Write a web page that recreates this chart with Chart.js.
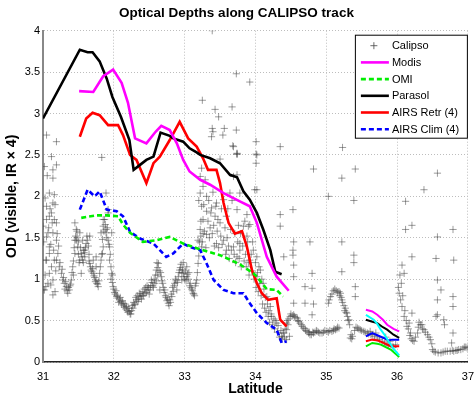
<!DOCTYPE html>
<html>
<head>
<meta charset="utf-8">
<script src="https://cdn.jsdelivr.net/npm/chart.js@4.4.1/dist/chart.umd.min.js"></script>
<style>
html,body{margin:0;padding:0;background:#fff;}
#wrap{width:474px;height:397px;position:relative;}
</style>
</head>
<body>
<div id="wrap"><canvas id="c" width="474" height="397"></canvas></div>
<script>
// ---------- data ----------
const xTicks = [31, 32, 33, 34, 35, 36, 37];
const yTicks = [0, 0.5, 1, 1.5, 2, 2.5, 3, 3.5, 4];

const calipsoLat = [
31.02,31.05,31.19,31.12,31.02,31.14,31.14,31.19,31.09,31.16,31.05,31.12,31.16,31.05,31.14,31.05,31.19,31.09,31.05,31.09,31.14,31.00,31.14,31.19,31.04,31.09,31.16,31.21,31.23,31.14,31.09,31.07,31.19,31.12,31.04,31.00,31.24,
31.01,31.03,31.06,31.08,31.10,31.11,31.13,31.15,31.17,31.18,31.20,31.22,31.03,31.07,31.11,31.17,
31.26,31.28,31.33,31.35,31.37,31.40,31.42,31.45,31.45,31.47,31.49,31.52,31.54,31.56,31.59,31.61,31.63,31.66,31.68,31.71,31.75,31.78,31.80,31.82,31.85,31.85,31.87,31.89,31.92,31.94,31.94,31.97,31.99,32.04,32.08,32.13,32.18,32.22,32.27,32.32,32.37,32.44,32.48,
31.56,31.52,31.71,31.75,31.82,31.89,31.97,31.92,31.54,31.30,31.38,31.43,31.50,31.57,31.65,31.73,31.76,31.84,31.96,32.01,32.06,32.10,32.15,32.20,32.24,32.29,32.34,32.40,31.83,31.98,31.48,31.45,31.47,31.59,31.66,31.75,31.85,31.89,31.92,
31.27,31.29,31.31,31.32,31.34,31.36,31.39,31.41,31.43,31.44,31.46,31.48,31.50,31.51,31.53,31.55,31.57,31.58,31.60,31.62,31.64,31.65,31.67,31.69,31.70,31.72,31.74,31.77,31.79,31.81,31.83,31.84,31.86,31.88,31.90,31.91,31.93,31.95,31.96,31.98,32.00,32.02,32.03,32.05,32.07,32.09,32.11,32.12,32.14,32.16,32.17,32.19,32.21,32.23,32.25,32.26,32.28,32.30,32.31,32.33,32.35,32.36,32.38,32.39,32.41,32.42,32.43,32.46,32.47,32.49,32.50,
32.51,32.58,32.60,32.63,32.67,32.72,32.77,32.82,32.86,32.91,32.93,32.98,33.03,33.08,33.12,33.17,33.19,33.24,33.26,
33.03,32.96,32.65,32.53,32.89,32.55,32.62,32.69,32.74,32.80,32.84,32.88,32.95,33.00,33.06,33.10,33.14,33.15,32.98,32.61,32.45,
32.52,32.54,32.56,32.57,32.59,32.60,32.62,32.64,32.66,32.68,32.70,32.71,32.73,32.75,32.76,32.78,32.79,32.81,32.83,32.85,32.87,32.90,32.92,32.94,32.96,32.97,32.99,33.01,33.02,33.04,33.05,33.07,33.09,33.11,33.13,33.16,33.18,33.20,33.21,33.23,
33.24,33.22,33.26,33.22,33.31,33.24,33.31,33.38,33.43,33.26,33.22,33.36,33.50,33.59,33.19,33.31,33.45,33.55,33.59,33.69,33.78,33.74,33.78,33.88,33.83,33.74,33.78,33.69,33.74,33.88,33.92,33.64,33.55,33.45,33.97,33.92,34.02,34.07,34.11,34.02,34.16,34.21,34.23,34.30,34.37,34.44,33.99,34.02,33.74,34.35,34.35,34.40,
33.20,33.23,33.25,33.27,33.28,33.29,33.30,33.33,33.34,33.35,33.37,33.39,33.40,33.41,33.42,33.44,33.46,33.47,33.48,33.51,33.52,33.53,33.57,33.58,33.60,33.61,33.62,33.63,33.65,33.66,33.67,33.70,33.71,33.72,33.75,33.76,33.77,33.79,33.80,33.82,33.84,33.85,33.86,33.87,33.89,33.90,33.91,33.94,33.95,33.96,33.98,34.00,34.01,34.03,34.04,34.05,34.06,34.08,34.09,34.10,34.12,34.13,34.14,34.15,34.17,34.18,34.19,34.20,34.22,34.24,34.26,34.27,34.28,34.31,34.32,34.34,34.36,34.38,34.39,34.41,34.42,34.46,
33.39,33.73,33.92,33.25,33.67,33.43,33.48,33.39,33.56,33.73,33.40,33.38,33.54,33.68,33.74,34.01,34.01,34.01,34.35,35.23,33.50,34.82,33.69,33.74,34.02,33.90,
34.40,34.44,34.49,34.54,34.59,34.63,34.68,34.73,34.77,34.82,34.87,34.94,35.01,35.08,35.13,35.18,35.03,35.06,35.18,35.20,35.22,35.27,35.29,35.32,35.34,35.37,35.44,35.48,35.53,35.58,35.65,35.72,35.79,35.86,35.93,35.98,
34.45,34.47,34.50,34.52,34.55,34.57,34.60,34.61,34.65,34.66,34.70,34.71,34.75,34.76,34.79,34.81,34.84,34.86,34.89,34.91,34.96,34.98,35.03,35.05,35.10,35.11,35.15,35.16,
35.04,35.08,35.10,35.12,35.14,35.16,35.19,35.21,35.23,35.25,35.26,35.28,35.30,35.31,35.33,35.35,35.36,
35.40,35.42,35.46,35.50,35.55,35.60,35.63,35.68,35.75,35.82,35.88,35.95,
35.22,35.41,35.03,35.39,34.53,34.54,34.77,35.22,34.53,34.53,34.54,34.54,34.80,35.39,35.39,35.22,34.70,34.80,34.70,34.82,34.80,34.54,35.41,35.41,
36.57,36.38,36.12,36.12,36.21,36.57,36.79,36.21,36.55,36.80,36.07,36.10,36.57,36.62,36.57,36.79,36.79,36.66,36.55,36.79,36.77,36.03,36.05,36.07,36.10,36.14,36.19,36.24,36.29,36.33,36.38,36.43,36.47,36.52,36.62,36.71,36.80,36.90,36.97,36.21,36.17,36.57,36.67,36.85,
36.02,36.04,36.06,36.08,36.11,36.13,36.16,36.18,36.20,36.22,36.26,36.30,36.31,36.35,36.36,36.40,36.45,36.49,36.50,36.54,36.58,36.65,36.68,36.75,36.78,36.83,36.87,36.93,36.95,36.99,
34.44,34.48,35.62,35.70,35.84,35.90
];
const calipsoOD = [
0.87,2.74,2.66,2.48,2.36,2.32,2.22,2.38,2.04,2.02,1.88,1.80,1.72,1.72,1.56,1.51,1.47,1.31,1.23,1.07,0.99,0.87,0.81,1.23,0.91,1.39,1.23,1.31,1.15,1.92,1.76,1.56,1.68,1.15,1.23,1.64,1.20,
1.45,1.98,2.25,1.62,1.85,1.42,1.68,1.35,1.90,1.10,1.55,1.40,1.05,0.95,0.93,0.85,
1.07,0.99,0.91,0.83,0.87,0.99,1.15,1.31,1.47,1.60,1.39,1.23,1.31,1.23,1.27,1.43,1.47,1.19,1.11,1.07,0.99,0.91,1.07,1.23,1.39,1.64,1.72,1.56,1.47,1.39,1.23,1.07,0.91,0.79,0.75,0.71,0.67,0.61,0.65,0.75,0.79,0.83,0.87,
1.47,1.56,1.23,1.15,1.56,2.04,1.56,1.80,1.07,0.95,0.92,1.05,1.45,1.35,1.30,1.02,0.95,1.31,1.15,0.84,0.77,0.73,0.66,0.60,0.58,0.69,0.73,0.80,2.47,1.05,1.50,1.68,1.47,1.35,1.52,1.27,1.72,1.60,1.84,
1.12,1.02,0.88,0.97,0.86,0.90,0.94,1.08,1.22,1.38,1.52,1.58,1.30,1.20,1.38,1.27,1.20,1.32,1.38,1.52,1.40,1.22,1.15,1.09,1.13,1.04,0.97,0.94,0.98,1.15,1.30,1.48,1.58,1.66,1.50,1.62,1.42,1.30,1.00,0.96,0.88,0.82,0.86,0.80,0.72,0.78,0.70,0.74,0.68,0.70,0.64,0.62,0.65,0.58,0.62,0.68,0.72,0.70,0.78,0.80,0.76,0.83,0.82,0.76,0.85,0.80,0.88,0.84,0.92,0.90,0.82,
0.87,0.95,1.11,1.19,1.03,0.87,0.71,0.79,0.95,1.03,1.11,1.07,1.03,0.95,0.83,0.99,1.19,1.39,1.55,
1.15,0.99,0.87,0.99,0.87,0.92,1.05,0.95,0.78,0.72,0.85,0.98,1.18,1.00,1.08,0.88,0.80,0.92,1.20,1.20,0.90,
0.92,0.96,0.90,1.00,1.05,0.98,1.14,1.10,1.08,0.98,0.90,0.84,0.80,0.74,0.76,0.68,0.75,0.82,0.90,0.92,1.00,0.96,1.08,1.14,1.08,1.12,1.03,1.10,0.98,1.06,1.00,0.92,0.90,0.86,0.82,0.95,1.08,1.28,1.45,1.52,
2.34,2.24,2.12,2.04,2.00,1.88,1.82,1.86,1.76,1.72,1.60,1.62,1.68,1.76,1.47,1.54,1.43,1.47,1.35,1.39,1.43,1.27,1.35,1.52,1.64,1.84,2.04,2.24,2.26,1.78,1.66,2.04,1.96,1.92,1.35,1.23,1.27,1.11,0.95,1.03,0.79,0.67,0.55,0.47,0.31,0.39,2.08,2.50,2.51,1.78,1.64,1.27,
1.95,1.70,1.45,1.90,1.58,2.20,1.38,1.70,1.95,1.50,1.80,1.55,2.05,1.65,1.40,1.88,1.58,1.72,1.38,1.52,1.85,1.42,1.62,1.30,1.50,1.85,1.40,1.25,1.60,1.35,1.95,1.30,1.55,1.20,1.45,1.65,1.25,1.55,1.15,1.40,1.22,1.70,1.30,1.15,1.45,1.20,1.05,1.30,1.10,1.45,1.00,1.20,0.90,1.08,0.85,1.15,0.95,0.80,1.00,0.70,0.88,0.65,0.78,0.60,0.70,0.55,0.62,0.48,0.58,0.45,0.52,0.40,0.50,0.36,0.44,0.30,0.38,0.28,0.35,0.30,0.40,0.45,
4.00,3.48,3.38,3.16,3.08,3.05,2.96,2.82,2.82,2.80,2.78,2.72,2.74,2.61,2.51,2.66,2.51,2.40,2.60,2.59,2.45,2.33,2.60,2.52,2.08,1.64,
0.35,0.47,0.55,0.57,0.53,0.47,0.41,0.37,0.33,0.35,0.37,0.35,0.37,0.37,0.39,0.41,0.71,0.79,0.85,0.83,0.75,0.65,0.59,0.51,0.29,0.31,0.41,0.39,0.37,0.35,0.33,0.29,0.25,0.21,0.19,0.21,
0.50,0.52,0.58,0.56,0.55,0.54,0.50,0.49,0.45,0.43,0.40,0.38,0.35,0.36,0.33,0.36,0.36,0.38,0.36,0.35,0.36,0.38,0.36,0.38,0.38,0.40,0.40,0.42,
0.75,0.82,0.86,0.88,0.86,0.84,0.80,0.78,0.72,0.68,0.62,0.60,0.55,0.50,0.45,0.33,0.28,
0.38,0.42,0.40,0.38,0.36,0.34,0.33,0.31,0.27,0.23,0.20,0.18,
2.22,2.33,2.00,1.95,1.84,1.45,1.45,1.45,1.35,1.29,1.17,1.03,1.07,1.29,1.20,1.09,0.91,0.89,0.71,0.70,0.57,0.71,0.91,0.79,
2.28,2.08,1.94,1.60,1.65,1.51,1.60,1.27,1.25,1.23,1.17,1.07,0.99,0.87,0.75,0.79,0.67,0.51,0.55,0.35,0.23,0.83,0.75,0.67,0.55,0.43,0.35,0.25,0.35,0.45,0.39,0.33,0.27,0.13,0.11,0.13,0.13,0.15,0.18,0.59,0.47,0.57,0.45,0.14,
0.90,1.05,0.95,0.80,0.62,0.50,0.40,0.32,0.28,0.26,0.30,0.42,0.48,0.45,0.40,0.36,0.30,0.22,0.15,0.12,0.11,0.12,0.13,0.13,0.14,0.14,0.15,0.16,0.18,0.17,
0.27,0.31,0.37,0.35,0.30,0.25
];

const modisLat = [31.51,31.71,31.85,31.99,32.11,32.20,32.30,32.46,32.59,32.67,32.79,32.89,32.98,33.07,33.22,33.36,33.55,33.78,33.92,34.02,34.16,34.30,34.47];
const modisOD  = [3.27,3.26,3.45,3.53,3.37,3.13,2.70,2.64,2.78,2.85,2.80,2.64,2.44,2.30,2.20,2.14,2.04,1.94,1.88,1.68,1.27,1.03,0.86];

const omiLat = [31.54,31.75,31.90,32.06,32.13,32.23,32.41,32.60,32.79,32.98,33.22,33.50,33.78,33.97,34.02,34.16,34.30,34.39];
const omiOD  = [1.74,1.77,1.77,1.76,1.66,1.56,1.45,1.47,1.51,1.43,1.36,1.29,1.18,1.07,1.03,0.88,0.87,0.79];

const parasolLat = [31.00,31.52,31.63,31.70,31.80,31.90,31.98,32.10,32.22,32.28,32.37,32.46,32.56,32.66,32.79,32.84,32.98,33.07,33.17,33.22,33.36,33.50,33.64,33.74,33.83,33.92,34.02,34.11,34.21,34.28,34.37];
const parasolOD  = [2.94,3.77,3.74,3.74,3.63,3.42,3.20,2.96,2.68,2.32,2.38,2.44,2.48,2.77,2.73,2.70,2.66,2.58,2.53,2.50,2.46,2.40,2.26,2.23,2.06,1.96,1.80,1.60,1.35,1.09,1.06];

const airsRetrLat = [31.52,31.61,31.70,31.80,31.92,32.06,32.13,32.23,32.32,32.46,32.56,32.65,32.79,32.93,33.05,33.17,33.26,33.33,33.45,33.50,33.55,33.62,33.71,33.81,33.88,33.95,34.02,34.09,34.18,34.30,34.35,34.44];
const airsRetrOD  = [2.72,2.94,3.01,2.98,2.86,2.86,2.74,2.50,2.44,2.16,2.40,2.48,2.68,2.90,2.70,2.60,2.46,2.32,2.32,2.16,1.92,1.68,1.55,1.58,1.39,1.11,0.95,0.83,0.75,0.77,0.51,0.43];

const airsClimLat = [31.52,31.63,31.73,31.80,31.90,32.04,32.13,32.23,32.37,32.56,32.65,32.74,32.84,32.98,33.07,33.22,33.31,33.41,33.55,33.69,33.83,33.92,34.02,34.16,34.30,34.37,34.44];
const airsClimOD  = [1.84,2.08,2.00,2.06,1.84,1.82,1.76,1.57,1.49,1.43,1.35,1.27,1.31,1.43,1.39,1.35,1.19,0.99,0.87,0.83,0.83,0.71,0.59,0.47,0.39,0.23,0.25];

// short segment near 36 N
const segModisLat = [35.56,35.65,35.72,35.80,35.86,35.95,36.03];
const segModisOD  = [0.63,0.61,0.57,0.51,0.45,0.40,0.37];
const segCyanLat  = [35.56,35.67,35.72,35.77,35.83,35.88,35.95,36.03];
const segCyanOD   = [0.57,0.51,0.46,0.39,0.32,0.25,0.16,0.08];
const segParasolLat = [35.56,35.64,35.72,35.80,35.86,35.95,36.03];
const segParasolOD  = [0.51,0.49,0.47,0.42,0.39,0.33,0.29];
const segClimLat = [35.56,35.65,35.73,35.81,35.88,35.93,36.03];
const segClimOD  = [0.31,0.35,0.32,0.29,0.26,0.27,0.27];
const segRetrLat = [35.56,35.65,35.73,35.81,35.91,36.03];
const segRetrOD  = [0.25,0.27,0.26,0.23,0.19,0.19];
const segOmiLat = [35.56,35.65,35.72,35.77,35.91,36.03];
const segOmiOD  = [0.19,0.23,0.22,0.21,0.15,0.06];

// ---------- build ----------
function pts(xs, ys){ return xs.map((x,i)=>({x:x, y:ys[i]})); }
function lineDs(label, xs, ys, color, dash, width, hide){
  return {label:label, data:pts(xs,ys), showLine:true, borderColor:color, backgroundColor:color,
    borderWidth:width, borderDash:dash||[], pointRadius:0, pointHoverRadius:0, tension:0,
    order:1, hideInLegend:!!hide, fill:false};
}

const MARK = 'rgba(60,60,60,0.5)';
const datasets = [
  {label:'Calipso', data:pts(calipsoLat, calipsoOD), showLine:false, pointStyle:'cross',
   pointRadius:3.6, pointBorderWidth:1, pointBorderColor:MARK, borderColor:MARK,
   backgroundColor:MARK, order:10, isMarker:true},
  lineDs('Modis', modisLat, modisOD, '#ff00ff', [], 2.6),
  lineDs('OMI', omiLat, omiOD, '#00ee00', [5,3], 2.6),
  lineDs('Parasol', parasolLat, parasolOD, '#000000', [], 2.6),
  lineDs('AIRS Retr (4)', airsRetrLat, airsRetrOD, '#ff0000', [], 2.6),
  lineDs('AIRS Clim (4)', airsClimLat, airsClimOD, '#0000ff', [5,3], 2.6),
  lineDs('Modis 2', segModisLat, segModisOD, '#ff00ff', [], 2, true),
  lineDs('Cyan 2', segCyanLat, segCyanOD, '#00ffff', [], 2, true),
  lineDs('Parasol 2', segParasolLat, segParasolOD, '#000000', [], 2, true),
  lineDs('Clim 2', segClimLat, segClimOD, '#0000ff', [], 2, true),
  lineDs('Retr 2', segRetrLat, segRetrOD, '#ff0000', [], 2, true),
  lineDs('OMI 2', segOmiLat, segOmiOD, '#00ee00', [], 2, true)
];

const FONT = "'Liberation Sans', Arial, Helvetica, sans-serif";
Chart.defaults.font.family = FONT;
Chart.defaults.color = '#000';

const boxLegend = {
  id: 'boxLegend',
  afterDraw(chart){
    const ctx = chart.ctx, ca = chart.chartArea;
    const items = chart.data.datasets.filter(d => !d.hideInLegend);
    const w = 113, rowH = 16.7, h = 104;
    const x0 = ca.right - w, y0 = ca.top + 4;
    ctx.save();
    ctx.fillStyle = '#fff';
    ctx.fillRect(x0, y0, w, h);
    ctx.strokeStyle = '#000';
    ctx.lineWidth = 1;
    ctx.strokeRect(x0 + 0.5, y0 + 0.5, w - 1, h - 1);
    ctx.font = '11px ' + FONT;
    ctx.textBaseline = 'middle';
    ctx.textAlign = 'left';
    items.forEach((d, i) => {
      const cy = y0 + 11 + i * rowH;
      if (d.isMarker) {
        const mx = x0 + 19;
        ctx.strokeStyle = 'rgba(70,70,70,0.8)';
        ctx.lineWidth = 1;
        ctx.setLineDash([]);
        ctx.beginPath();
        ctx.moveTo(mx - 3.5, cy); ctx.lineTo(mx + 3.5, cy);
        ctx.moveTo(mx, cy - 3.5); ctx.lineTo(mx, cy + 3.5);
        ctx.stroke();
      } else {
        ctx.strokeStyle = d.borderColor;
        ctx.lineWidth = d.borderWidth;
        ctx.setLineDash(d.borderDash || []);
        ctx.beginPath();
        ctx.moveTo(x0 + 6, cy); ctx.lineTo(x0 + 34, cy);
        ctx.stroke();
        ctx.setLineDash([]);
      }
      ctx.fillStyle = '#000';
      ctx.fillText(d.label, x0 + 37, cy + 0.5);
    });
    ctx.restore();
  }
};

const fmt = v => String(Math.round(v * 10) / 10);

new Chart(document.getElementById('c'), {
  type: 'scatter',
  data: {datasets: datasets},
  options: {
    responsive: false,
    animation: false,
    events: [],
    layout: {padding: {left: 0, right: 1, top: 0, bottom: 0}},
    plugins: {
      legend: {display: false},
      tooltip: {enabled: false},
      title: {display: true, text: 'Optical Depths along CALIPSO track',
        font: {size: 13.5, weight: 'bold', family: FONT}, color: '#000',
        padding: {top: 5, bottom: 9.5}}
    },
    scales: {
      x: {
        type: 'linear', min: 31, max: 37,
        afterBuildTicks: s => { s.ticks = xTicks.map(v => ({value: v})); },
        afterFit: s => { s.height = 35; },
        ticks: {font: {size: 11}, color: '#000', padding: 0, maxRotation: 0, callback: fmt},
        grid: {color: '#bdbdbd', lineWidth: 1, drawTicks: true, tickLength: 8, tickColor: 'rgba(0,0,0,0)'},
        border: {display: true, color: '#222', width: 1.5, dash: [1, 2]},
        title: {display: true, text: 'Latitude', font: {size: 14, weight: 'bold'}, color: '#000', padding: {top: 0, bottom: -1}}
      },
      y: {
        type: 'linear', min: 0, max: 4,
        afterBuildTicks: s => { s.ticks = yTicks.map(v => ({value: v})); },
        afterFit: s => { s.width = 43; },
        ticks: {font: {size: 11}, color: '#000', padding: 3, callback: fmt},
        grid: {color: '#bdbdbd', lineWidth: 1, drawTicks: false},
        border: {display: true, color: '#888', width: 2, dash: [1, 2]},
        title: {display: true, text: 'OD (visible, IR \u00d7 4)', font: {size: 14, weight: 'bold'}, color: '#000', padding: {top: 4, bottom: 0}}
      }
    }
  },
  plugins: [boxLegend]
});
</script>
</body>
</html>
